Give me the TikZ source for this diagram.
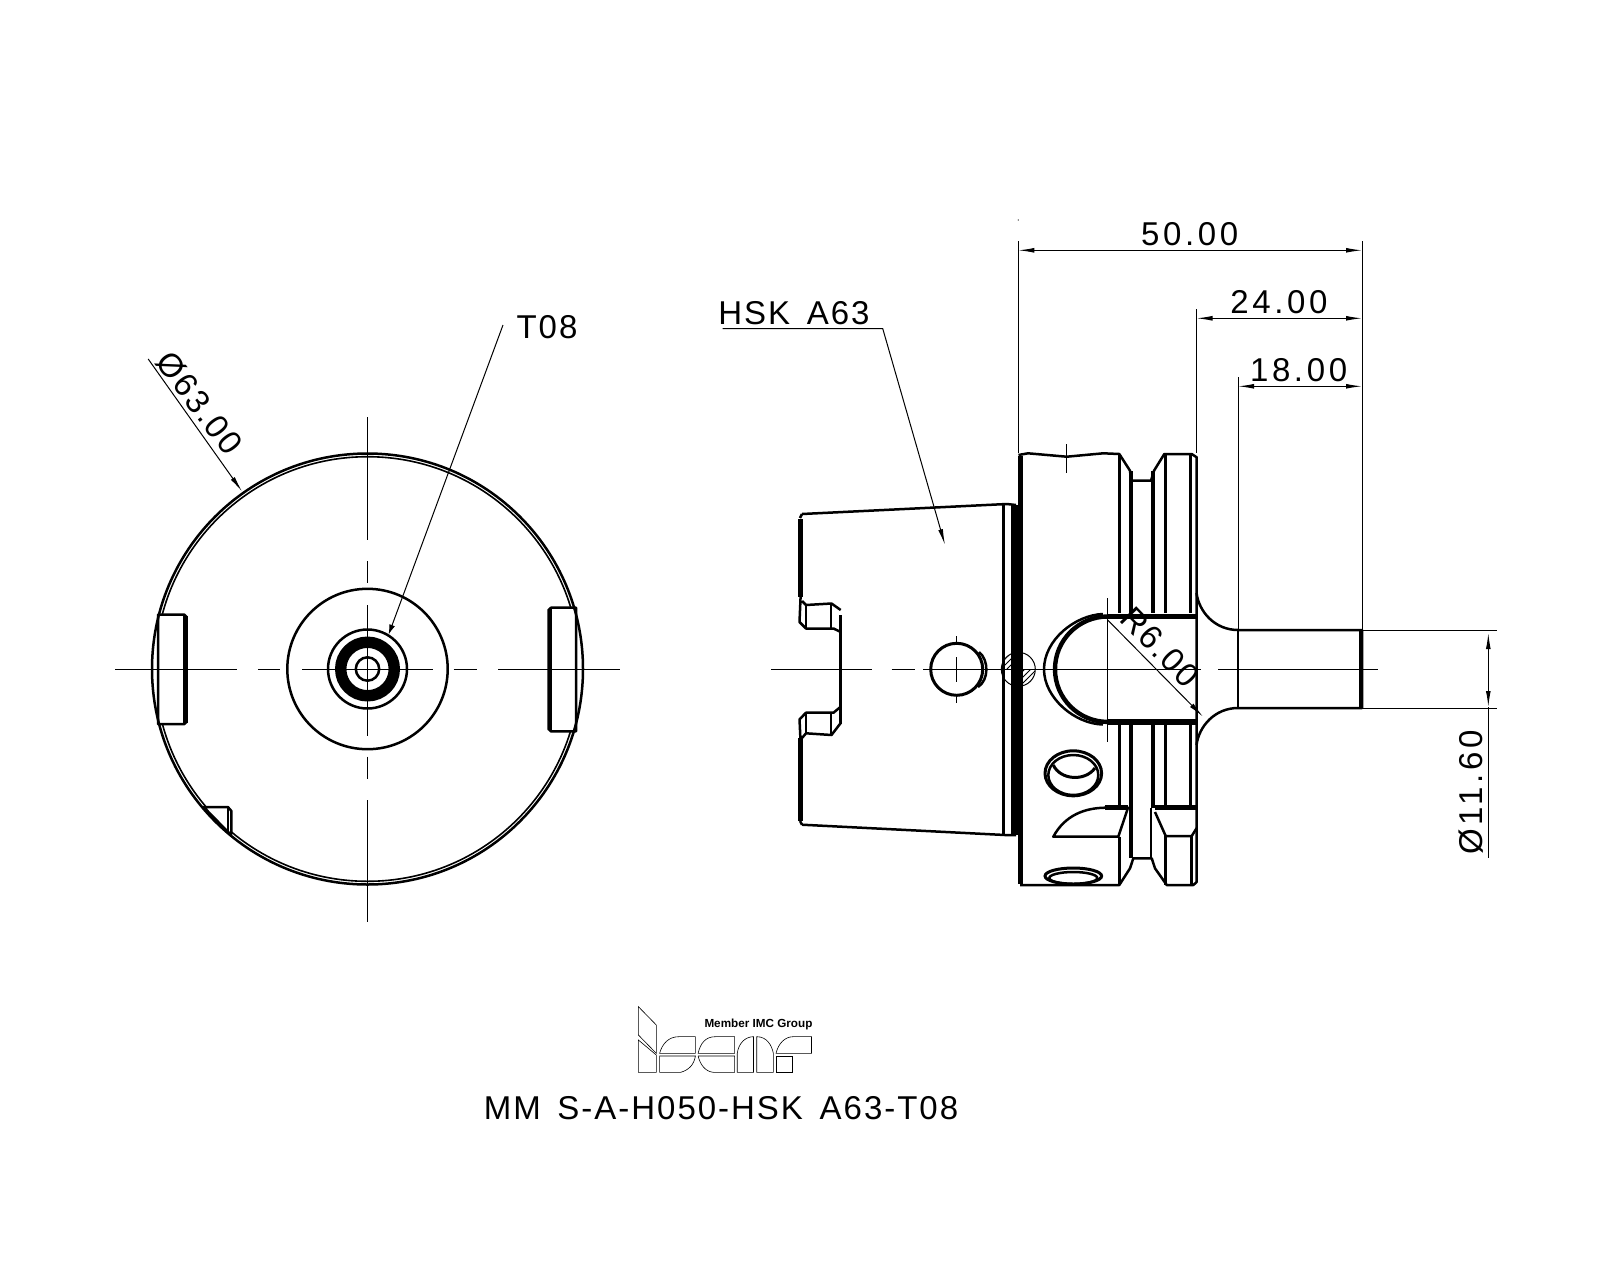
\documentclass[tikz,border=0pt]{standalone}
\usepackage{fontspec}
\setmainfont[LetterSpace=6, WordSpace=1.5]{Liberation Sans}
\newfontfamily\dimfont[LetterSpace=11]{Liberation Sans}
\newfontfamily\logofont{Liberation Sans}
\usetikzlibrary{arrows, arrows.meta}
\usetikzlibrary{calc}
\usetikzlibrary{patterns}
\tikzset{
  part/.style={line width=1.25pt, line join=round},
  heavy/.style={line width=2.4pt},
  thin line/.style={line width=0.5pt},
  dimtip/.style={thin line, {Latex[length=8pt, width=2.4pt]}-{Latex[length=8pt, width=2.4pt]}},
  leader/.style={thin line, -{Latex[length=8pt, width=2.4pt]}},
  labeltext/.style={font=\fontsize{16.5}{18}\selectfont, inner sep=0pt},
  dimtext/.style={font=\dimfont\fontsize{16.5}{18}\selectfont, inner sep=0pt},
  logoline/.style={line width=0.3pt}
}

\begin{document}
\begin{tikzpicture}[x=0.5pt, y=-0.5pt]
    \useasboundingbox (0,0) rectangle (1600,1280);

    \coordinate (lc) at (367.5,669);
    \coordinate (rc) at (1107.7,669.3);

    % end view
    \draw[line width=0.8pt] (lc) circle [radius=212.3];
    \fill[white] (153.5,614.5) rectangle (186,724);
    \fill[white] (549,608) rectangle (581.5,731);
    \draw[part] (lc) circle [radius=215.5];
    \draw[part] (lc) circle [radius=80.2];
    \draw[part] (lc) circle [radius=39.5];
    \draw[line width=5.7pt] (lc) circle [radius=26.8];
    \draw[part] (lc) circle [radius=11.7];

    \draw[part] (158,614.5) -- (184,614.5) -- (186.5,617) -- (186.5,722) -- (184,724.2) -- (158,724.2) -- cycle;
    \draw[heavy] (185.5,616) -- (185.5,723);
    \draw[part] (576,607.7) -- (551,607.7) -- (548.5,610) -- (548.5,729) -- (551,731.4) -- (576,731.4) -- cycle;
    \draw[heavy] (550,609) -- (550,730);

    \fill[white] (203.6,807) -- (231.4,807) -- (231.4,833.7) -- (228.5,832.5) -- cycle;
    \draw[part] (203.6,807) -- (227.9,807) -- (231.4,811) -- (231.4,833.7) -- (228.5,832.5) -- cycle;
    \draw[part] (227.9,807) -- (227.9,832);

    \foreach \a/\b in {115/236.8, 257.9/280.4, 302/432.9, 453.6/476.8, 498.2/619.6}
      \draw[thin line] (\a,669) -- (\b,669);
    \foreach \a/\b in {417/540, 561/583, 605/735.6, 756.6/778.5, 800/922}
      \draw[thin line] (367.5,\a) -- (367.5,\b);

    \node[labeltext] (t08) at (547,327) {T08};
    \coordinate (t08start) at (503,325);
    \coordinate (t08end) at (388.6,634.6);
    \draw[thin line, -{Latex[length=5pt, width=3pt]}] (t08start) -- (t08end);

    \node[labeltext, rotate=-52.7] (dia63) at (199.5,403) {Ø63.00};
    \coordinate (dia63start) at (148.2,359);
    \coordinate (dia63end) at (242.1,491.5);
    \draw[leader] (dia63start) -- (dia63end);

    % taper
    \draw[part] (802,514) -- (1006.7,504) -- (1016,505);
    \draw[part] (802,824.7) -- (1005,835) -- (1016,835);
    \draw[heavy] (800.7,519) -- (800.7,597) (800.7,738) -- (800.7,821);
    \draw[part] (802,514) -- (800,518);
    \draw[part] (802,824.7) -- (800,821);
    \draw[part] (800.7,594) -- (799.5,622) -- (806,628.5) -- (833.5,628.5) -- (840.7,632)
      (840.7,610) -- (831.5,603.5) -- (806,605) -- (802,601);
    \draw[part] (800.7,745) -- (799.5,719.3) -- (806,712.7) -- (833.5,712.7) -- (840.7,706.7)
      (840.7,723) -- (831.5,735) -- (806,733.3) -- (802,738);
    \draw[part] (840.7,615) -- (840.7,724);
    \draw[part] (806,605) -- (806,628.5) (806,712.7) -- (806,733.3);
    \draw[part] (831,603.5) -- (831,628.5) (831,712.7) -- (831,735);
    \draw[part] (1003.3,505) -- (1003.3,835);
    \fill (1011,505) rectangle (1022,835);

    \draw[line width=1.5pt] (956.7,669.3) circle [radius=26];
    \draw[part] (979,652) .. controls (989,660) and (989,680) .. (978,687);
    \foreach \a/\b in {636/643, 657/682, 694/703}
      \draw[thin line] (956.7,\a) -- (956.7,\b);

    \begin{scope}
      \clip (1018.3,669.3) circle [radius=16.7];
      \fill[pattern=north east lines] (1000,652) rectangle (1012,669.3);
      \fill[pattern=north east lines] (1022,669.3) rectangle (1036,686);
    \end{scope}
    \draw[thin line] (1018.3,669.3) circle [radius=17];

    % flange
    \draw[heavy] (1020.5,456) -- (1020.5,884);
    \draw[part] (1018.5,455) -- (1028,453.3) -- (1066.7,456.7) -- (1103.3,453.3) -- (1119.3,454) -- (1130,470.7)
      -- (1131,480.7) -- (1151,480.7) -- (1154,470.7) -- (1164.3,454) -- (1191.7,454) -- (1196.7,457.3) -- (1196.7,882)
      -- (1193.3,885) -- (1166.7,885) -- (1155,868.3) -- (1151.7,858.3) -- (1133.3,858.3) -- (1130,868.3)
      -- (1119.3,885) -- (1020,885);
    \draw[part] (1119.3,454) -- (1119.3,613) (1119.3,725) -- (1119.3,807);
    \draw[line width=2.4pt] (1131,471) -- (1131,613) (1131,725) -- (1131,858);
    \draw[line width=2.4pt] (1153,471) -- (1153,613) (1153,725) -- (1153,808);
    \draw[part] (1151,808) -- (1151,858);
    \draw[part] (1165.7,454) -- (1165.7,613) (1165.7,725) -- (1165.7,807);
    \draw[part] (1190.7,454) -- (1190.7,613) (1190.7,725) -- (1190.7,807);
    \draw[thin line] (1066.7,444) -- (1066.7,472.7);

    % keyway
    \draw[line width=2.2pt] (1107.7,616.5) arc [start angle=-90, end angle=-270, radius=52.7];
    \draw[line width=2.8pt] (1197,616.5) -- (1107.7,616.5) (1107.7,722) -- (1197,722);
    \draw[part] (1103,614) .. controls (1075,615) and (1044,640) .. (1044,669.3)
      .. controls (1044,698) and (1075,724) .. (1103,724.5);

    % lower cuts
    \draw[part] (1053.3,836.7) .. controls (1065,815) and (1085,808) .. (1105,807.7) -- (1128,807.7) -- (1118.3,836.7) -- cycle;
    \draw[heavy] (1105,807.7) -- (1128,807.7) (1155,807.7) -- (1196,807.7);
    \draw[part] (1119.3,836.7) -- (1119.3,885);
    \draw[part] (1155,812) -- (1165.7,836) -- (1191.7,836) -- (1196.7,828);
    \draw[part] (1165.7,836) -- (1165.7,885) (1191.7,836) -- (1191.7,885);

    \draw[line width=1.5pt] (1073.3,773.3) ellipse [x radius=28.3, y radius=22.5];
    \draw[part] (1073.3,775) ellipse [x radius=25, y radius=20];
    \draw[line width=1.5pt] (1053.3,765) .. controls (1060,780) and (1085,782) .. (1095,768);
    \draw[line width=1.5pt] (1073.3,876) ellipse [x radius=28.3, y radius=8];
    \draw[part] (1073.3,878) ellipse [x radius=24, y radius=6];

    % stud
    \draw[part] (1196.5,593) .. controls (1199,612) and (1215,630) .. (1238,630) -- (1362,630) -- (1362,708) -- (1238,708)
      .. controls (1215,708) and (1199,726) .. (1196.5,745);
    \draw[part] (1238,630) -- (1238,708);
    \draw[heavy] (1361,630) -- (1361,708);

    % centre lines
    \foreach \a/\b in {771/871.7, 891.7/915, 923.3/1200.7, 1218/1378}
      \draw[thin line] (\a,669.3) -- (\b,669.3);
    \draw[thin line] (1107.7,598) -- (1107.7,741.7);

    % radius
    \node[labeltext, rotate=-46] (r6) at (1160,647) {R6.00};
    \coordinate (r6start) at (1107.7,620);
    \coordinate (r6end) at (1203,716.7);
    \draw[leader] (r6start) -- (r6end);

    % dimensions
    \coordinate (d50a) at (1018.3,250.3);
    \coordinate (d50b) at (1362,250.3);
    \coordinate (d24a) at (1196.5,318.3);
    \coordinate (d24b) at (1362,318.3);
    \coordinate (d18a) at (1238,386.3);
    \coordinate (d18b) at (1362,386.3);
    \draw[thin line] (1018.3,241) -- (1018.3,453);
    \draw[thin line] (1362,241) -- (1362,630);
    \draw[thin line] (1196.5,309) -- (1196.5,453);
    \draw[thin line] (1238,377) -- (1238,630);
    \fill (1018.3,220) circle [radius=0.6];
    \draw[dimtip] (d50a) -- (d50b);
    \draw[dimtip] (d24a) -- (d24b);
    \draw[dimtip] (d18a) -- (d18b);
    \node[dimtext] (l50) at (1189.7,234) {50.00};
    \node[dimtext] (l24) at (1279,301.7) {24.00};
    \node[dimtext] (l18) at (1298.6,370) {18.00};

    \coordinate (d116a) at (1488.3,633);
    \coordinate (d116b) at (1488.3,707);
    \draw[thin line] (1362,630) -- (1497,630);
    \draw[thin line] (1362,708) -- (1497,708);
    \draw[dimtip] (d116a) -- (d116b);
    \draw[thin line] (d116b) -- (1488.3,858);
    \node[dimtext, rotate=90] (l116) at (1471,792.5) {Ø11.60};

    % callout
    \node[labeltext] (hsk) at (794,313) {HSK A63};
    \coordinate (hskleft) at (722.5,328.5);
    \coordinate (hskknee) at (882.7,328.5);
    \coordinate (hskend) at (945,545);
    \draw[leader] (hskleft) -- (hskknee) -- (hskend);

    % logo
    \begin{scope}[shift={(460,990)}, x=0.1658pt, y=-0.1667pt, logoline]
      \draw[logoline] (538,50) -- (592,105) -- (592,190) -- (538,135) -- cycle;
      \draw[logoline] (538,150) -- (592,195) -- (592,247) -- (538,247) -- cycle;
      \draw[logoline] (602,190) .. controls (610,160) and (630,140) .. (660,140) -- (710,140) -- (710,190) -- cycle;
      \draw[logoline] (602,198) -- (710,198) .. controls (705,225) and (690,240) .. (665,247) -- (602,247) -- cycle;
      \draw[logoline] (718,190) .. controls (725,160) and (740,140) .. (770,140) -- (828,140) -- (828,190) -- cycle;
      \draw[logoline] (718,198) -- (828,198) -- (828,247) -- (765,247) .. controls (740,245) and (725,225) .. (718,198);
      \draw[logoline] (836,247) -- (836,190) .. controls (840,160) and (860,140) .. (885,140) -- (885,247) -- cycle;
      \draw[logoline] (895,247) -- (895,140) .. controls (925,140) and (940,165) .. (945,190) -- (945,247) -- cycle;
      \draw[logoline] (953,190) .. controls (960,160) and (980,140) .. (1005,140) -- (1060,140) -- (1060,190) -- cycle;
      \draw[logoline] (953,198) -- (1002,198) -- (1002,247) -- (953,247) -- cycle;
      \node[font=\logofont\bfseries\fontsize{5.85}{6}\selectfont, inner sep=0pt] (member) at (900,104) {Member IMC Group};
    \end{scope}

    \node[labeltext] (title) at (721,1108.3) {MM S-A-H050-HSK A63-T08};
  \end{tikzpicture}
\end{document}
